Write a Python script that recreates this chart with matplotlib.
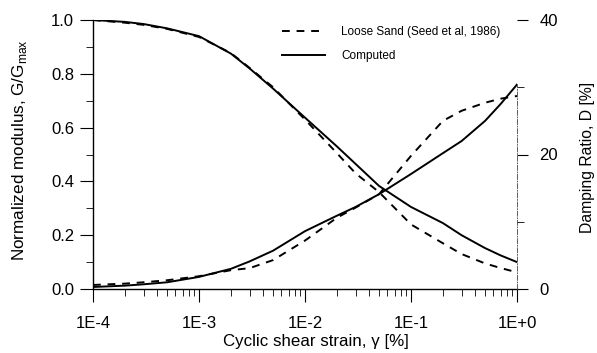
import matplotlib
matplotlib.use("Agg")
import matplotlib.pyplot as plt
from matplotlib.ticker import FixedLocator, NullFormatter, LogLocator
from matplotlib.lines import Line2D

plt.rcParams['font.family'] = ['Liberation Sans', 'DejaVu Sans']
plt.rcParams['mathtext.fontset'] = 'custom'
plt.rcParams['mathtext.rm'] = 'Liberation Sans'

# data
strain = [1e-4, 2e-4, 3e-4, 5e-4, 1e-3, 2e-3, 3e-3, 5e-3, 1e-2, 2e-2, 3e-2, 5e-2,
          1e-1, 2e-1, 3e-1, 5e-1, 7e-1, 1.0]
G_seed = [1.0, 0.99, 0.982, 0.967, 0.937, 0.877, 0.822, 0.75, 0.63, 0.505, 0.43, 0.36,
          0.24, 0.17, 0.13, 0.095, 0.078, 0.062]
G_comp = [1.0, 0.993, 0.985, 0.969, 0.94, 0.875, 0.82, 0.745, 0.637, 0.53, 0.465, 0.383,
          0.305, 0.245, 0.20, 0.152, 0.125, 0.10]
D_seed = [0.6, 0.8, 1.0, 1.3, 1.9, 2.8, 3.1, 4.3, 7.2, 10.6, 12.1, 14.1,
          19.8, 25.0, 26.5, 27.7, 28.3, 28.7]
D_comp = [0.3, 0.5, 0.7, 1.0, 1.8, 3.0, 4.1, 5.7, 8.6, 10.9, 12.2, 14.1,
          17.1, 20.2, 22.0, 25.0, 27.5, 30.4]

xticks = [1e-4, 1e-3, 1e-2, 1e-1, 1.0]
xticklabels = ['1E-4', '1E-3', '1E-2', '1E-1', '1E+0']
yticks = [0.0, 0.2, 0.4, 0.6, 0.8, 1.0]
yticklabels = ['0.0', '0.2', '0.4', '0.6', '0.8', '1.0']
y2ticks = [0, 20, 40]

fig = plt.figure(figsize=(5.97, 3.53), dpi=100)
ax = fig.add_axes([93/597, 1-289/353, 424/597, 269/353])
ax2 = ax.twinx()

lw = 1.4
dash = (4, 3.5)
ax.plot(strain, G_seed, color='black', lw=lw, dashes=dash)
ax.plot(strain, G_comp, color='black', lw=lw)
ax2.plot(strain, D_seed, color='black', lw=lw, dashes=dash)
ax2.plot(strain, D_comp, color='black', lw=lw)

ax.set_xscale('log')
ax.set_xlim(1e-4, 1.0)
ax.set_ylim(0, 1.0)
ax2.set_ylim(0, 40)

ax.set_xticks(xticks)
ax.set_xticklabels(xticklabels)
ax.xaxis.set_minor_locator(LogLocator(base=10, subs=range(2, 10)))
ax.xaxis.set_minor_formatter(NullFormatter())
ax.set_yticks(yticks)
ax.set_yticklabels(yticklabels)
ax.yaxis.set_minor_locator(FixedLocator([0.1, 0.3, 0.5, 0.7, 0.9]))
ax2.set_yticks(y2ticks)
ax2.yaxis.set_minor_locator(FixedLocator([10, 30]))

for a in (ax, ax2):
    a.spines['top'].set_visible(False)
ax.spines['right'].set_visible(False)
ax2.spines['left'].set_visible(False)
ax2.spines['bottom'].set_visible(False)
ax2.spines['right'].set_linestyle((0, (6, 2, 1, 2)))
ax2.spines['right'].set_linewidth(0.6)
ax2.spines['right'].set_color('#444444')
ax2.spines['right'].set_bounds(0, 30.5)
ax.spines['left'].set_linewidth(1.0)
ax.spines['bottom'].set_linewidth(1.0)

ax.tick_params(axis='y', which='major', direction='out', length=9.5, width=0.8, labelsize=12, pad=4)
ax.tick_params(axis='x', which='major', direction='out', length=9.5, width=0.8, labelsize=12, pad=10)
ax.tick_params(axis='both', which='minor', direction='out', length=5, width=0.6)
ax2.tick_params(axis='y', which='major', direction='out', length=8, width=0.8, labelsize=12, pad=8)
ax2.tick_params(axis='y', which='minor', direction='out', length=5, width=0.6)

ax.set_xlabel('Cyclic shear strain, \u03b3 [%]', fontsize=12.2)
ax.xaxis.set_label_coords((316 - 93) / 424, -(334 - 289) / 269)
ax.set_ylabel('Normalized modulus, G/G$_{\\mathregular{max}}$', fontsize=12.3)
ax.yaxis.set_label_coords(-(93 - 29) / 424, (289 - 150) / 269)
ax2.set_ylabel('Damping Ratio, D [%]', fontsize=11.3)
ax2.yaxis.set_label_coords((580 - 93) / 424, (289 - 157) / 269)

handles = [Line2D([], [], color='black', lw=lw, dashes=dash),
           Line2D([], [], color='black', lw=lw)]
fig.legend(handles, ['Loose Sand (Seed et al, 1986)', 'Computed'],
           loc='upper left', bbox_to_anchor=(282/597, 1-26/353), frameon=False,
           fontsize=8.5, handlelength=3.6, handletextpad=1.4, labelspacing=1.05,
           borderpad=0, borderaxespad=0)

fig.savefig('out.png', dpi=100)
